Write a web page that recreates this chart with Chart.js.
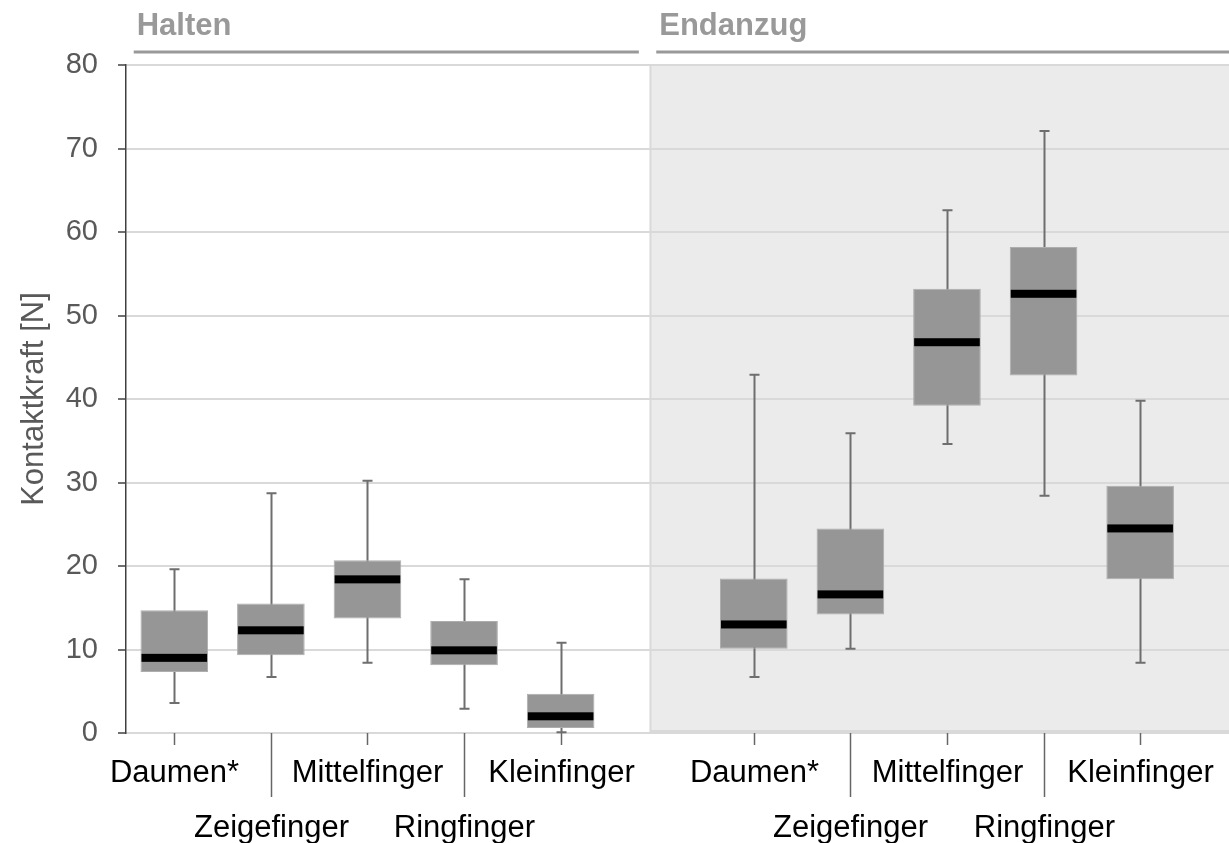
<!DOCTYPE html>
<html>
<head>
<meta charset="utf-8">
<script src="https://cdn.jsdelivr.net/npm/chart.js@4.4.1/dist/chart.umd.min.js"></script>
<style>
  body { margin: 0; background: #fff; }
  #wrap { width: 1229px; height: 843px; }
</style>
</head>
<body>
<div id="wrap">
  <canvas id="boxChart" width="1229" height="843"></canvas>
</div>
<script>
  // fingers, same order in both phases
  const fingers = ['Daumen*', 'Zeigefinger', 'Mittelfinger', 'Ringfinger', 'Kleinfinger'];
  const groupNames = ['Halten', 'Endanzug'];
  const haltenPos = [0, 1, 2, 3, 4];
  const endanzugPos = [6, 7, 8, 9, 10];

  // Halten
  const haltenMin    = [3.6, 6.7, 8.4, 2.9, 0.1];
  const haltenQ1     = [7.3, 9.3, 13.7, 8.1, 0.6];
  const haltenMedian = [9.0, 12.3, 18.4, 9.9, 2.0];
  const haltenQ3     = [14.7, 15.5, 20.7, 13.4, 4.7];
  const haltenMax    = [19.6, 28.7, 30.2, 18.4, 10.8];

  // Endanzug
  const endMin    = [6.7, 10.1, 34.6, 28.4, 8.4];
  const endQ1     = [10.1, 14.2, 39.2, 42.8, 18.4];
  const endMedian = [13.0, 16.6, 46.8, 52.6, 24.5];
  const endQ3     = [18.5, 24.5, 53.2, 58.2, 29.6];
  const endMax    = [42.9, 35.9, 62.6, 72.1, 39.8];

  const yTicks = [0, 10, 20, 30, 40, 50, 60, 70, 80];

  const groups = [
    { pos: haltenPos, min: haltenMin, q1: haltenQ1, med: haltenMedian, q3: haltenQ3, max: haltenMax },
    { pos: endanzugPos, min: endMin, q1: endQ1, med: endMedian, q3: endQ3, max: endMax }
  ];

  // layout (x in category units)
  const X_MIN = -0.5, X_MAX = 10.92;
  const titleSpans = [[-0.42, 4.81], [4.99, X_MAX]];
  const shadeFrom = 4.93;
  const FONT = '"Liberation Sans", Arial, sans-serif';

  const allPos = haltenPos.concat(endanzugPos);

  const boxParts = {
    id: 'boxParts',
    beforeDraw(chart) {
      const { ctx, scales: { x, y } } = chart;
      const left = x.getPixelForValue(shadeFrom);
      const right = x.getPixelForValue(X_MAX);
      const top = y.getPixelForValue(80);
      const bottom = y.getPixelForValue(0) - 2;
      ctx.save();
      ctx.fillStyle = '#ebebeb';
      ctx.fillRect(left, top, right - left, bottom - top);
      ctx.strokeStyle = '#d9d9d9';
      ctx.lineWidth = 2;
      ctx.strokeRect(left, top, right - left + 4, bottom - top);
      ctx.restore();
    },
    beforeDatasetsDraw(chart) {
      const { ctx, scales: { x, y } } = chart;
      ctx.save();
      ctx.strokeStyle = '#6e6e6e';
      ctx.lineWidth = 2;
      groups.forEach(g => {
        g.pos.forEach((p, i) => {
          const px = Math.round(x.getPixelForValue(p)) + 0.5;
          const yLo = y.getPixelForValue(g.min[i]);
          const yHi = y.getPixelForValue(g.max[i]);
          ctx.beginPath();
          ctx.moveTo(px, yLo); ctx.lineTo(px, yHi);
          ctx.moveTo(px - 5, yLo); ctx.lineTo(px + 5, yLo);
          ctx.moveTo(px - 5, yHi); ctx.lineTo(px + 5, yHi);
          ctx.stroke();
        });
      });
      ctx.restore();
    },
    afterDatasetsDraw(chart) {
      const { ctx, scales: { y } } = chart;
      ctx.save();
      groups.forEach((g, gi) => {
        const meta = chart.getDatasetMeta(gi);
        g.med.forEach((m, i) => {
          const bar = meta.data[i];
          const py = y.getPixelForValue(m);
          ctx.fillStyle = '#000';
          ctx.fillRect(bar.x - bar.width / 2 + 1, py - 4, bar.width - 2, 8);
        });
      });
      ctx.restore();
    },
    afterDraw(chart) {
      const { ctx, scales: { x } } = chart;
      const base = chart.chartArea.bottom;
      ctx.save();
      // x tick marks + labels, alternating in two rows
      ctx.font = '31px ' + FONT;
      ctx.textAlign = 'center';
      ctx.textBaseline = 'middle';
      allPos.forEach((p, i) => {
        const fi = i % 5;
        const lower = fi % 2 === 1;
        const px = Math.round(x.getPixelForValue(p)) + 0.5;
        ctx.strokeStyle = '#666';
        ctx.lineWidth = 1.5;
        ctx.beginPath();
        ctx.moveTo(px, base);
        ctx.lineTo(px, base + (lower ? 64 : 12));
        ctx.stroke();
        ctx.fillStyle = '#000';
        ctx.fillText(fingers[fi], px, base + (lower ? 95 : 40));
      });
      // group titles with underline
      groupNames.forEach((name, gi) => {
        const l = x.getPixelForValue(titleSpans[gi][0]);
        const r = Math.min(x.getPixelForValue(titleSpans[gi][1]), chart.width);
        ctx.fillStyle = '#999';
        ctx.font = 'bold 31px ' + FONT;
        ctx.textBaseline = 'middle';
        ctx.textAlign = 'left';
        ctx.fillText(name, l + 3, 26);
        ctx.strokeStyle = '#999';
        ctx.lineWidth = 3;
        ctx.beginPath();
        ctx.moveTo(l, 52);
        ctx.lineTo(r, 52);
        ctx.stroke();
      });
      ctx.restore();
    }
  };

  const ctx = document.getElementById('boxChart').getContext('2d');

  new Chart(ctx, {
    type: 'bar',
    data: {
      datasets: groups.map((g, gi) => ({
        label: groupNames[gi],
        data: g.pos.map((p, i) => ({ x: p, y: [g.q1[i], g.q3[i]] })),
        backgroundColor: '#969696',
        borderColor: '#adadad',
        borderWidth: 1,
        borderSkipped: false,
        barPercentage: 0.7,
        categoryPercentage: 1.0,
        grouped: false
      }))
    },
    options: {
      responsive: false,
      animation: false,
      layout: { padding: { top: 65, left: 0, right: 0, bottom: 0 } },
      plugins: {
        legend: { display: false },
        tooltip: { enabled: false }
      },
      scales: {
        x: {
          type: 'linear',
          min: X_MIN,
          max: X_MAX,
          offset: false,
          afterFit(scale) { scale.height = 110; },
          afterBuildTicks(scale) {
            scale.ticks = allPos.map(v => ({ value: v }));
          },
          grid: { drawOnChartArea: false, drawTicks: false },
          border: { color: '#d9d9d9', width: 2 },
          ticks: { display: false }
        },
        y: {
          min: 0,
          max: 80,
          afterFit(scale) { scale.width = 126; },
          afterBuildTicks(scale) {
            scale.ticks = yTicks.map(v => ({ value: v }));
          },
          grid: { color: '#d9d9d9', lineWidth: 2, tickColor: '#404040', tickLength: 8, tickWidth: 1.5 },
          border: { color: '#404040', width: 1.5 },
          ticks: {
            padding: 20,
            color: '#595959',
            font: { family: FONT, size: 29 }
          },
          title: {
            display: true,
            text: 'Kontaktkraft [N]',
            color: '#595959',
            font: { family: FONT, size: 31 },
            padding: { top: 16, bottom: 0 }
          }
        }
      }
    },
    plugins: [boxParts]
  });
</script>
</body>
</html>
